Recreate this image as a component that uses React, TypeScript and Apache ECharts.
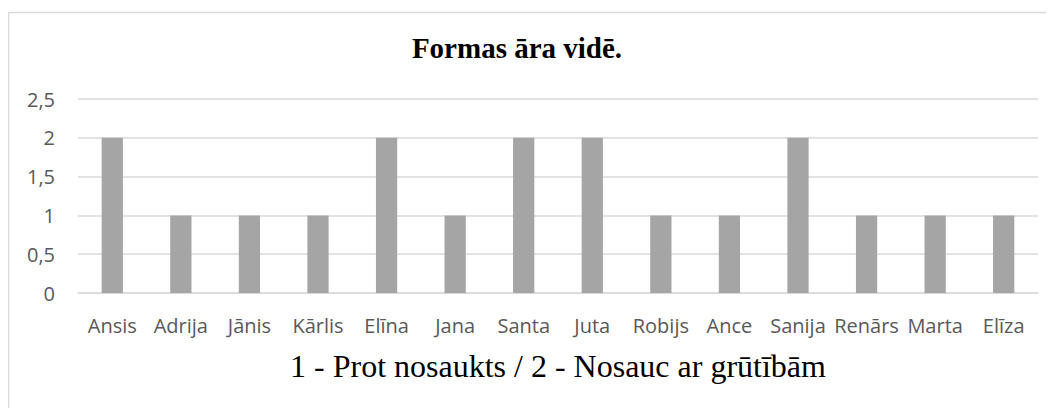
import React, { useEffect, useRef } from "react";
import * as echarts from "echarts";

const categories = ["Ansis", "Adrija", "Jānis", "Kārlis", "Elīna", "Jana", "Santa", "Juta", "Robijs", "Ance", "Sanija", "Renārs", "Marta", "Elīza"];
const values = [2, 1, 1, 1, 2, 1, 2, 2, 1, 1, 2, 1, 1, 1];
const yTicks = [0, 0.5, 1, 1.5, 2, 2.5];
const chartTitle = "Formas āra vidē.";
const axisTitle = "1 - Prot nosaukts / 2 - Nosauc ar grūtībām";

export default function App() {
  const ref = useRef<HTMLDivElement>(null);
  useEffect(() => {
    if (!ref.current) return;
    const chart = echarts.init(ref.current, null, { renderer: "svg" });
    chart.setOption({
      animation: false,
      graphic: [
        {
          type: "rect",
          shape: { x: 0.5, y: 4.5, width: 1200, height: 600 },
          style: { fill: "none", stroke: "#d9d9d9", lineWidth: 1.5 },
          silent: true,
        },
        {
          type: "text",
          x: 509,
          y: 40,
          style: {
            text: chartTitle,
            font: "bold 29px 'Liberation Serif', serif",
            fill: "#000",
            textAlign: "center",
            textVerticalAlign: "middle",
          },
        },
        {
          type: "text",
          x: 550,
          y: 358,
          style: {
            text: axisTitle,
            font: "32px 'Liberation Serif', serif",
            fill: "#000",
            textAlign: "center",
            textVerticalAlign: "middle",
          },
        },
      ],
      grid: { left: 70, top: 91, width: 960, height: 194 },
      xAxis: {
        type: "category",
        data: categories,
        axisLine: { lineStyle: { color: "#d9d9d9", width: 1.5 } },
        axisTick: { show: false },
        axisLabel: { color: "#595959", fontSize: 20, fontFamily: "'Open Sans', sans-serif", margin: 22, interval: 0 },
      },
      yAxis: {
        type: "value",
        min: 0,
        max: 2.5,
        interval: 0.5,
        axisLine: { show: false },
        axisTick: { show: false },
        splitLine: { lineStyle: { color: "#d9d9d9", width: 1.5 } },
        axisLabel: {
          color: "#595959",
          fontSize: 20,
          fontFamily: "'Open Sans', sans-serif",
          margin: 23,
          formatter: (v: number) => (yTicks.includes(v) ? String(v).replace(".", ",") : ""),
        },
      },
      series: [
        {
          type: "bar",
          data: values,
          barWidth: "31%",
          itemStyle: { color: "#a5a5a5" },
        },
      ],
    });
    return () => chart.dispose();
  }, []);
  return <div ref={ref} style={{ width: 1046, height: 400 }} />;
}
